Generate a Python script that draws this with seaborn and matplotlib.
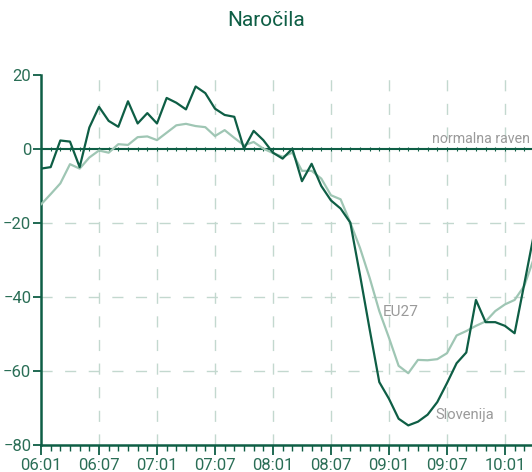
import matplotlib
matplotlib.use("Agg")
import matplotlib.pyplot as plt
import seaborn as sns
import pandas as pd
from matplotlib.ticker import MultipleLocator

# monthly data, 2006-01 .. 2010-04
months = [f"{y:02d}:{m:02d}" for y in range(6, 11) for m in range(1, 13)][:52]

slovenija = [-5.3, -4.9, 2.3, 2.0, -4.9, 5.8, 11.4, 7.6, 6.0, 12.9, 6.9, 9.7,
             6.9, 13.8, 12.5, 10.7, 16.9, 15.1, 10.9, 9.2, 8.7, 0.1, 4.9, 2.4,
             -1.0, -2.6, 0.1, -8.7, -4.0, -10.0, -13.9, -16.1, -19.9, -34.0, -48.7, -63.0,
             -67.5, -72.9, -74.7, -73.7, -71.8, -68.4, -63.3, -57.9, -55.0, -40.8, -46.8, -46.8,
             -47.8, -49.8, -36.5, -23.0]

eu27 = [-15.0, -12.2, -9.3, -4.1, -5.3, -2.3, -0.4, -1.0, 1.3, 1.1, 3.2, 3.4,
        2.4, 4.4, 6.4, 6.8, 6.2, 5.9, 3.5, 5.1, 3.0, 1.0, 1.9, 0.1,
        -1.1, -2.1, -1.0, -5.9, -5.9, -8.0, -12.5, -13.6, -19.9, -26.7, -34.8, -43.8,
        -51.0, -58.6, -60.6, -57.0, -57.1, -56.8, -55.2, -50.4, -49.2, -47.8, -46.6, -43.8,
        -42.0, -40.8, -37.0, -29.5]

tick_labels = ["06:01", "06:07", "07:01", "07:07", "08:01", "08:07", "09:01", "09:07", "10:01"]

dark = "#0e5e45"
light = "#9fc6b4"
grid_c = "#c3d8cf"
gray = "#9a9a9a"

df = pd.DataFrame({
    "i": list(range(len(months))) * 2,
    "val": slovenija + eu27,
    "serija": ["Slovenija"] * len(months) + ["EU27"] * len(months),
})

sns.set_style("white")
plt.rcParams["font.family"] = ["Roboto", "DejaVu Sans"]

fig = plt.figure(figsize=(5.32, 4.72), dpi=100)
ax = fig.add_axes([41 / 532, 1 - 445 / 472, 1 - 41 / 532, (445 - 75) / 472])

# grid
for k in range(6, len(months), 6):
    ax.axvline(k, color=grid_c, lw=1, dashes=(8, 9), zorder=0)
for v in (-20, -40, -60):
    ax.axhline(v, color=grid_c, lw=1, dashes=(8, 9), zorder=0)

# normal level line with month marks
ax.plot(range(len(months)), [0] * len(months), color=dark, lw=1.5,
        marker="|", markersize=3, markeredgewidth=0.8, zorder=1)

sns.lineplot(data=df, x="i", y="val", hue="serija",
             palette={"Slovenija": dark, "EU27": light},
             hue_order=["EU27", "Slovenija"], lw=1.6, legend=False, ax=ax, zorder=3)

ax.set_xlim(0, 50.8)
ax.set_ylim(-80, 20)
ax.set_xlabel("")
ax.set_ylabel("")

ax.set_xticks(range(0, len(months), 6))
ax.set_xticklabels(tick_labels)
ax.xaxis.set_minor_locator(MultipleLocator(1))
ax.set_yticks([-80, -60, -40, -20, 0, 20])
ax.tick_params(axis="x", which="major", length=7, width=1.3, color=dark,
               labelcolor="#2a6e56", labelsize=12, pad=2, direction="out", bottom=True)
ax.tick_params(axis="x", which="minor", length=4, width=1, color=dark, bottom=True)
ax.tick_params(axis="y", which="major", length=6, width=1.3, color=dark,
               labelcolor="#2a6e56", labelsize=12, pad=1, direction="out", left=True)

for s in ("top", "right"):
    ax.spines[s].set_visible(False)
for s in ("left", "bottom"):
    ax.spines[s].set_color(dark)
    ax.spines[s].set_linewidth(1.8)

ax.text(50.6, 0.8, "normalna raven", color=gray, fontsize=10.2, ha="right", va="bottom")
ax.text(35.4, -44, "EU27", color=gray, fontsize=11, ha="left", va="center")
ax.text(40.8, -72, "Slovenija", color=gray, fontsize=10.6, ha="left", va="center")

fig.text(0.5, 1 - 20 / 472, "Naročila", color=dark, fontsize=15, ha="center", va="center")

fig.savefig("out.png", dpi=100)
